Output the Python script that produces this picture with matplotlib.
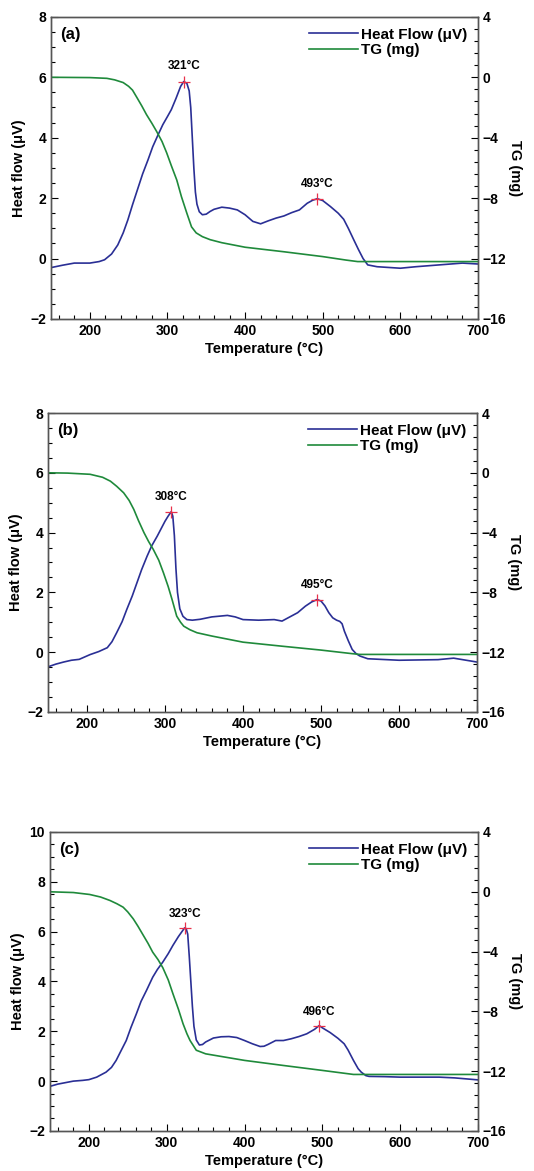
import matplotlib.pyplot as plt
from matplotlib.ticker import AutoMinorLocator

plt.rcParams['font.family'] = ['Liberation Sans', 'DejaVu Sans']
plt.rcParams['font.weight'] = 'bold'

# (a) heat flow / TG
t_hf_a = [150, 165, 180, 200, 212, 219, 228, 236, 243, 249, 255, 262, 268, 275, 281, 288, 294, 300, 305, 311,
          317, 321, 325, 328, 330, 332, 334, 336, 338, 341, 345, 350, 355, 360, 370, 380, 390, 400, 410, 420,
          430, 440, 450, 460, 470, 480, 487, 493, 500, 510, 520, 527, 533, 540, 546, 552, 558, 570, 600, 620,
          650, 680, 700]
hf_a = [-0.30, -0.22, -0.15, -0.15, -0.10, -0.04, 0.15, 0.45, 0.85, 1.28, 1.78, 2.33, 2.80, 3.27, 3.70, 4.10, 4.43, 4.70, 4.93, 5.30,
        5.70, 5.86, 5.80, 5.55, 5.00, 4.00, 3.00, 2.20, 1.80, 1.55, 1.45, 1.47, 1.56, 1.63, 1.70, 1.67, 1.61, 1.45, 1.23, 1.15,
        1.25, 1.34, 1.41, 1.52, 1.61, 1.83, 1.93, 1.98, 1.92, 1.72, 1.50, 1.30, 1.00, 0.62, 0.30, 0.00, -0.21, -0.27, -0.32, -0.27,
        -0.21, -0.15, -0.18]
t_tg_a = [150, 200, 222, 232, 243, 250, 255, 261, 267, 273, 280, 286, 293, 299, 305, 312, 318, 325, 331, 337,
          345, 355, 370, 400, 450, 500, 530, 545, 700]
tg_a = [0, -0.02, -0.07, -0.17, -0.35, -0.60, -0.85, -1.37, -1.90, -2.47, -3.05, -3.58, -4.25, -5.00, -5.85, -6.80, -7.90, -9.00, -9.90, -10.30,
        -10.55, -10.75, -10.95, -11.25, -11.55, -11.87, -12.10, -12.20, -12.20]

# (b)
t_hf_b = [150, 160, 170, 180, 190, 204, 215, 226, 232, 238, 245, 251, 258, 264, 270, 277, 283, 290, 295, 300,
          304, 308, 310, 312, 314, 316, 319, 323, 328, 335, 345, 360, 380, 390, 400, 420, 440, 450, 460, 470,
          480, 488, 495, 500, 505, 510, 515, 520, 524, 527, 530, 535, 540, 545, 550, 560, 600, 650, 670, 700]
hf_b = [-0.49, -0.40, -0.33, -0.27, -0.24, -0.08, 0.02, 0.15, 0.35, 0.65, 1.02, 1.43, 1.88, 2.32, 2.76, 3.21, 3.56, 3.88, 4.13, 4.38,
        4.55, 4.70, 4.55, 3.90, 2.80, 2.00, 1.45, 1.20, 1.09, 1.07, 1.10, 1.18, 1.23, 1.18, 1.09, 1.07, 1.09, 1.04, 1.18, 1.32,
        1.54, 1.68, 1.76, 1.71, 1.55, 1.32, 1.15, 1.07, 1.03, 0.95, 0.70, 0.38, 0.09, -0.05, -0.13, -0.22, -0.27, -0.25, -0.20, -0.33]
t_tg_b = [150, 175, 204, 220, 230, 238, 247, 254, 260, 266, 273, 279, 285, 292, 298, 304, 309, 315, 320, 324,
          332, 341, 360, 400, 450, 500, 540, 550, 700]
tg_b = [0, -0.02, -0.10, -0.30, -0.56, -0.90, -1.34, -1.85, -2.45, -3.20, -4.00, -4.60, -5.13, -5.85, -6.69, -7.60, -8.47, -9.59, -10.00, -10.26,
        -10.50, -10.70, -10.92, -11.33, -11.60, -11.86, -12.10, -12.15, -12.15]

# (c)
t_hf_c = [150, 160, 170, 180, 192, 200, 210, 222, 229, 235, 241, 248, 254, 261, 267, 274, 282, 288, 295, 302,
          308, 315, 320, 323, 325, 327, 329, 331, 333, 335, 338, 342, 346, 350, 360, 370, 380, 390, 400, 410,
          420, 425, 430, 440, 450, 460, 470, 480, 490, 496, 500, 510, 520, 528, 533, 540, 546, 550, 556, 560,
          580, 600, 650, 670, 700]
hf_c = [-0.21, -0.12, -0.06, 0.00, 0.03, 0.06, 0.16, 0.36, 0.55, 0.83, 1.20, 1.63, 2.15, 2.70, 3.20, 3.64, 4.17, 4.48, 4.78, 5.12,
        5.45, 5.80, 6.02, 6.15, 6.12, 5.90, 5.00, 4.00, 3.00, 2.20, 1.65, 1.45, 1.47, 1.57, 1.73, 1.78, 1.79, 1.75, 1.63, 1.50,
        1.39, 1.40, 1.47, 1.63, 1.63, 1.70, 1.79, 1.90, 2.08, 2.23, 2.14, 1.95, 1.72, 1.50, 1.25, 0.83, 0.50, 0.36, 0.22, 0.19,
        0.18, 0.16, 0.16, 0.13, 0.05]
t_tg_c = [150, 180, 201, 215, 227, 236, 244, 250, 257, 263, 270, 276, 282, 289, 295, 302, 308, 315, 321, 326,
          330, 338, 350, 400, 450, 500, 540, 700]
tg_c = [0, -0.05, -0.18, -0.35, -0.58, -0.80, -1.03, -1.35, -1.81, -2.30, -2.92, -3.45, -4.04, -4.55, -5.08, -5.90, -6.82, -7.85, -8.83, -9.50,
        -9.95, -10.60, -10.84, -11.28, -11.62, -11.95, -12.22, -12.22]

peaks_a = [(321, 5.86), (493, 1.98)]
peaks_b = [(308, 4.70), (495, 1.76)]
peaks_c = [(323, 6.15), (496, 2.23)]

panels = [
    ('(a)', t_hf_a, hf_a, t_tg_a, tg_a, peaks_a, (-2, 8), [0.0955, 0.7276, 0.7996, 0.258]),
    ('(b)', t_hf_b, hf_b, t_tg_b, tg_b, peaks_b, (-2, 8), [0.0899, 0.392, 0.8034, 0.2553]),
    ('(c)', t_hf_c, hf_c, t_tg_c, tg_c, peaks_c, (-2, 10), [0.0936, 0.0342, 0.8015, 0.2553]),
]

blue = '#2a2f95'
green = '#1f8a3b'

fig = plt.figure(figsize=(5.34, 11.71), dpi=100)

for tag, th, hf, tt, tg, peaks, ylim, pos in panels:
    ax = fig.add_axes(pos)
    ax2 = ax.twinx()
    l1, = ax.plot(th, hf, color=blue, lw=1.2, label='Heat Flow (μV)')
    l2, = ax2.plot(tt, tg, color=green, lw=1.2, label='TG (mg)')
    for px, py in peaks:
        ax.plot(px, py, marker='+', color='#e8304a', ms=8, mew=0.9)
        ax.text(px, py + 0.3, '%d°C' % px, ha='center', va='bottom', fontsize=8.5, fontweight='bold')
    ax.set_xlim(150, 700)
    ax.set_ylim(*ylim)
    ax2.set_ylim(-16, 4)
    ax.set_xticks([200, 300, 400, 500, 600, 700])
    ax.set_yticks(range(ylim[0], ylim[1] + 1, 2))
    ax2.set_yticks([-16, -12, -8, -4, 0, 4])
    ax.xaxis.set_minor_locator(AutoMinorLocator(5))
    ax.yaxis.set_minor_locator(AutoMinorLocator(4))
    ax2.yaxis.set_minor_locator(AutoMinorLocator(5))
    for a in (ax, ax2):
        a.tick_params(which='both', direction='in', labelsize=10, width=0.8)
        a.tick_params(which='major', length=5)
        a.tick_params(which='minor', length=3)
        for s in a.spines.values():
            s.set_color('#555555')
            s.set_linewidth(1.0)
    ax.set_xlabel('Temperature (°C)', fontsize=10.5, fontweight='bold', labelpad=3)
    ax.set_ylabel('Heat flow (μV)', fontsize=10.5, fontweight='bold', labelpad=3)
    ax2.set_ylabel('TG (mg)', fontsize=10.5, fontweight='bold', rotation=270, labelpad=11)
    ax.text(0.022, 0.965, tag, transform=ax.transAxes, ha='left', va='top', fontsize=12, fontweight='bold')
    ax.legend(handles=[l1, l2], loc='upper right', frameon=False, fontsize=11,
              handlelength=3.2, handletextpad=0.2, labelspacing=0.1, borderaxespad=0.3)

fig.savefig('out.png', dpi=100)
